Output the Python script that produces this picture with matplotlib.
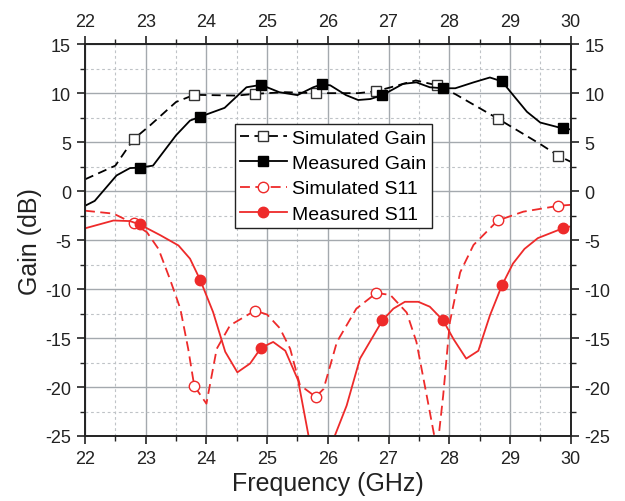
import matplotlib
matplotlib.use("Agg")
import matplotlib.pyplot as plt
from matplotlib.ticker import MultipleLocator

plt.rcParams['font.family'] = ['Liberation Sans', 'DejaVu Sans']
plt.rcParams['axes.unicode_minus'] = False

# ---------------- data ----------------
sim_gain_f = [22.0, 22.5, 22.8, 23.07, 23.5, 23.8, 24.5, 24.8, 25.3, 25.8, 26.5, 26.8,
              27.45, 27.8, 28.1, 28.8, 29.5, 29.8, 30.0]
sim_gain_v = [1.2, 2.6, 5.3, 6.7, 9.1, 9.83, 9.75, 9.93, 10.1, 10.0, 10.0, 10.2,
              11.3, 10.8, 9.9, 7.4, 4.8, 3.6, 3.0]
sim_gain_mk = [22.8, 23.8, 24.8, 25.8, 26.8, 27.8, 28.8, 29.8]

meas_gain_f = [22.0, 22.16, 22.52, 22.74, 22.9, 23.12, 23.5, 23.73, 23.9, 24.3, 24.66, 24.9,
               25.2, 25.5, 25.76, 25.9, 26.04, 26.3, 26.5, 26.7, 26.9, 27.24, 27.46, 27.68,
               27.9, 28.1, 28.4, 28.67, 28.87, 29.0, 29.28, 29.5, 29.87, 30.0]
meas_gain_v = [-1.5, -1.0, 1.6, 2.35, 2.4, 2.6, 5.7, 7.2, 7.6, 8.5, 10.6, 10.85,
               10.1, 9.8, 10.6, 10.9, 10.8, 9.8, 9.3, 9.4, 9.8, 10.95, 11.1, 10.6,
               10.5, 10.5, 11.1, 11.6, 11.2, 10.2, 8.1, 7.0, 6.4, 6.3]
meas_gain_mk = [22.9, 23.9, 24.9, 25.9, 26.9, 27.9, 28.87, 29.87]

sim_s11_f = [22.0, 22.47, 22.8, 23.02, 23.21, 23.4, 23.57, 23.7, 23.8, 24.0, 24.17, 24.39,
             24.8, 25.0, 25.21, 25.38, 25.54, 25.8, 25.93, 26.15, 26.47, 26.8, 27.03, 27.3,
             27.46, 27.63, 27.8, 27.9, 28.01, 28.18, 28.4, 28.8, 29.22, 29.8, 30.0]
sim_s11_v = [-2.0, -2.3, -3.3, -4.2, -5.9, -9.0, -12.0, -16.1, -19.9, -21.7, -16.1, -13.7,
             -12.2, -12.6, -14.0, -16.1, -19.8, -21.0, -20.2, -15.4, -12.0, -10.4, -10.6, -12.4,
             -15.4, -20.9, -26.5, -20.9, -13.4, -8.3, -5.5, -3.0, -2.1, -1.5, -1.4]
sim_s11_mk = [22.8, 23.8, 24.8, 25.8, 26.8, 27.8, 28.8, 29.8]

meas_s11_f = [22.0, 22.47, 22.74, 22.9, 23.24, 23.54, 23.73, 23.9, 24.11, 24.31, 24.51, 24.72,
              24.9, 25.1, 25.3, 25.51, 25.68, 25.9, 26.12, 26.31, 26.53, 26.9, 27.08, 27.27,
              27.49, 27.68, 27.9, 28.07, 28.28, 28.48, 28.67, 28.87, 29.05, 29.24, 29.46,
              29.87, 30.0]
meas_s11_v = [-3.8, -3.0, -3.06, -3.4, -4.5, -5.55, -6.9, -9.1, -12.35, -16.4, -18.5, -17.6,
              -16.0, -15.4, -16.3, -19.3, -24.9, -30.0, -24.9, -21.9, -17.1, -13.2, -12.0, -11.3,
              -11.3, -11.8, -13.2, -15.1, -17.1, -16.3, -12.7, -9.6, -7.4, -5.9, -4.8,
              -3.8, -3.6]
meas_s11_mk = [22.9, 23.9, 24.9, 25.9, 26.9, 27.9, 28.87, 29.87]

labels = ["Simulated Gain", "Measured Gain", "Simulated S11", "Measured S11"]
x_ticks = [22, 23, 24, 25, 26, 27, 28, 29, 30]
y_ticks = [-25, -20, -15, -10, -5, 0, 5, 10, 15]


def mk_idx(f, mk):
    return [i for i, v in enumerate(f) if v in mk]


RED = '#ee2a2a'
DASH = (0, (5.0, 3))

fig = plt.figure(figsize=(6.25, 5.02), dpi=100)
ax = fig.add_axes([0.136, 0.1295, 0.777, 0.7805])

ax.plot(sim_gain_f, sim_gain_v, color='black', lw=1.3, ls=DASH, marker='s', ms=7,
        mfc='white', mec='#333333', mew=1.0, markevery=mk_idx(sim_gain_f, sim_gain_mk),
        label=labels[0])
ax.plot(meas_gain_f, meas_gain_v, color='black', lw=1.3, ls='-', marker='s', ms=7,
        mfc='black', mec='black', markevery=mk_idx(meas_gain_f, meas_gain_mk),
        label=labels[1])
ax.plot(sim_s11_f, sim_s11_v, color=RED, lw=1.3, ls=(0, (5.5, 3)), marker='o', ms=7.5,
        mfc='white', mec=RED, mew=1.0, markevery=mk_idx(sim_s11_f, sim_s11_mk),
        label=labels[2])
ax.plot(meas_s11_f, meas_s11_v, color=RED, lw=1.3, ls='-', marker='o', ms=7.5,
        mfc=RED, mec=RED, markevery=mk_idx(meas_s11_f, meas_s11_mk),
        label=labels[3])

ax.set_xlim(22, 30)
ax.set_ylim(-25, 15)
ax.set_xticks(x_ticks)
ax.set_yticks(y_ticks)
ax.xaxis.set_minor_locator(MultipleLocator(0.5))
ax.yaxis.set_minor_locator(MultipleLocator(2.5))

ax.set_axisbelow(True)
ax.grid(which='major', color='#a4a9ae', lw=1.0, ls='-')
ax.grid(which='minor', color='#bfc3c7', lw=0.8, ls=(0, (2.5, 2.5)))

for s in ax.spines.values():
    s.set_linewidth(1.4)
    s.set_color('#222222')

ax.tick_params(which='both', direction='out', top=True, right=True,
               labeltop=True, labelright=True, colors='#222222', labelcolor='#222222')
ax.tick_params(which='major', length=6, width=1.2, labelsize=13, pad=4)
ax.tick_params(which='minor', length=3.5, width=1.0)

ax.set_xlabel("Frequency (GHz)", fontsize=18, color='#222222', labelpad=3)
ax.set_ylabel("Gain (dB)", fontsize=18, color='#222222', labelpad=2)

leg = ax.legend(loc='upper left', bbox_to_anchor=(0.309, 0.796), fontsize=14,
                frameon=True, fancybox=False, edgecolor='#222222', framealpha=1,
                handlelength=2.4, handletextpad=0.3, labelspacing=0.4,
                borderpad=0.25, borderaxespad=0)
leg.get_frame().set_linewidth(1.0)

fig.savefig("out.png", dpi=100)
